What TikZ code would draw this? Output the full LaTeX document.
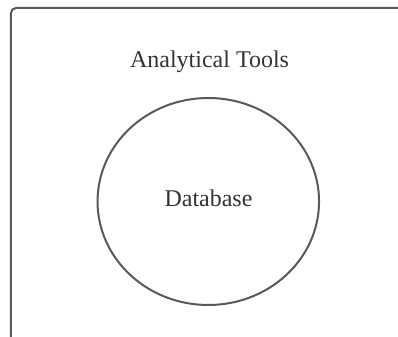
\documentclass[tikz,border=0pt]{standalone}
\usepackage{fontspec}
\setmainfont{Liberation Serif}
\usetikzlibrary{shapes.geometric}

\begin{document}
\begin{tikzpicture}[
            x=0.5pt, y=-0.5pt,
            line/.style={draw=black!65, line width=1pt},
            label/.style={font=\fontsize{12}{14}\selectfont, text=black!80, anchor=base},
            store/.style={ellipse, line, minimum width=110.75pt, minimum height=103.5pt, inner sep=0pt}
            ]
            \clip (0,0) rectangle (398,337);
            \draw[line, rounded corners=2.5pt] (11,345) -- (11,8) -- (410,8);
            \node[label] (tools) at (209.5,68) {Analytical Tools};
            \node[store] (db) at (208.3,201.5) {};
            \node[label] (dbtext) at (208.5,207) {Database};
        \end{tikzpicture}
\end{document}
